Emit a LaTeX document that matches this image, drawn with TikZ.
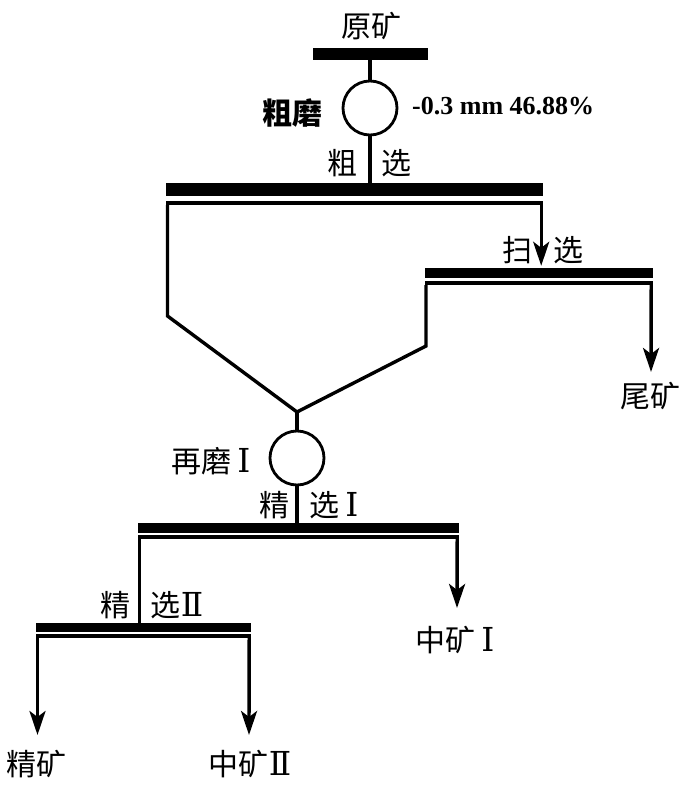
\documentclass[tikz,border=0pt]{standalone}
\usepackage{fontspec}
\setmainfont{Liberation Serif}
\newfontfamily\cjk{Noto Sans CJK SC}
\newfontfamily\romf{DejaVu Serif}
\usetikzlibrary{arrows.meta,calc}
\newcommand{\RI}{{\romf\fontsize{33}{33}\selectfont Ⅰ}}
\newcommand{\RII}{{\romf\fontsize{33}{33}\selectfont Ⅱ}}
\tikzset{
  line/.style={line width=3.4pt},
  flow/.style={line width=3.4pt,-{Stealth[length=24pt,width=16pt,inset=6pt]}},
  mill/.style={circle,draw,line width=2.8pt,minimum size=54pt,inner sep=0pt},
  bar/.style={rectangle,inner sep=0pt,minimum width=#1,
    path picture={
      \fill[black] (path picture bounding box.north west) rectangle
        ($(path picture bounding box.north east)!0.6!(path picture bounding box.south east)$);
      \fill[black] ([yshift=4pt]path picture bounding box.south west) rectangle
        (path picture bounding box.south east);}},
  lbl/.style={font=\cjk\fontsize{30}{30}\selectfont,inner sep=0pt},
}
\begin{document}
\begin{tikzpicture}[x=1pt,y=-1pt]
\useasboundingbox (0,0) rectangle (700,789);
% feed
\node[lbl] (feedlbl) at (371,26) {原矿};
\node[rectangle,fill=black,inner sep=0pt,minimum width=115pt,minimum height=12pt] (feed) at (370.5,54) {};
\node[mill] (m1) at (370,108) {};
\node[font=\cjk\bfseries\fontsize{30}{30}\selectfont,inner sep=0pt] (m1lbl) at (292,113) {粗磨};
\node[font=\bfseries\fontsize{26}{26}\selectfont,anchor=west,inner sep=0pt] (sizelbl) at (412,106) {-0.3 mm 46.88\%};
% rougher
\node[bar=377pt,minimum height=22pt] (r) at (354.5,194) {};
\node[lbl] (rl1) at (342,163) {粗};
\node[lbl] (rl2) at (396,163) {选};
% scavenger
\node[bar=228pt,minimum height=17pt] (s) at (539,276.5) {};
\node[lbl] (sl1) at (517,250) {扫};
\node[lbl] (sl2) at (568,250) {选};
\node[lbl] (tail) at (650,396) {尾矿};
\coordinate (t1) at (651,372);
% regrind
\coordinate (v) at (297,412);
\coordinate (rl) at (167,316);
\coordinate (sr) at (426,346);
\node[mill] (m2) at (297,458) {};
\node[lbl] (m2lbl) at (211,461) {再磨\hspace{6pt}\RI};
% cleaner I
\node[bar=321pt,minimum height=16pt] (c1) at (298.5,531) {};
\node[lbl] (c1l1) at (274,505) {精};
\node[lbl] (c1l2) at (334,505) {选\hspace{6pt}\RI};
\node[lbl] (mid1) at (455,640) {中矿\hspace{6pt}\RI};
\coordinate (t2) at (457,608);
% cleaner II
\node[bar=215pt,minimum height=15pt] (c2) at (143.5,630.5) {};
\node[lbl] (c2l1) at (115,605) {精};
\node[lbl] (c2l2) at (177,605) {选\RII};
\node[lbl] (conc) at (36,764) {精矿};
\node[lbl] (mid2) at (250,764) {中矿\RII};
\coordinate (t3) at (37.5,735);
\coordinate (t4) at (249,735);
% connectors
\draw[line] (feed.south -| m1.north) -- (m1.north);
\draw[line] (m1.south) -- (m1.south |- r.north);
\draw[line] ([xshift=1.7pt]r.south west) -- ([xshift=1.7pt]r.south west |- rl) -- (v) -- (sr) -- (sr |- s.south);
\draw[flow] ([xshift=-2pt]r.south east) -- ([xshift=-2pt,yshift=2pt]r.south east |- s.north);
\draw[flow] ([xshift=-2pt]s.south east) -- (t1);
\draw[line] (v) -- (m2.north);
\draw[line] (m2.south) -- (m2.south |- c1.north);
\draw[line] ([xshift=1.7pt]c1.south west) -- ([xshift=1.7pt]c1.south west |- c2.north);
\draw[flow] ([xshift=-2pt]c1.south east) -- (t2);
\draw[flow] ([xshift=1.7pt]c2.south west) -- (t3);
\draw[flow] ([xshift=-2pt]c2.south east) -- (t4);
\end{tikzpicture}
\end{document}
